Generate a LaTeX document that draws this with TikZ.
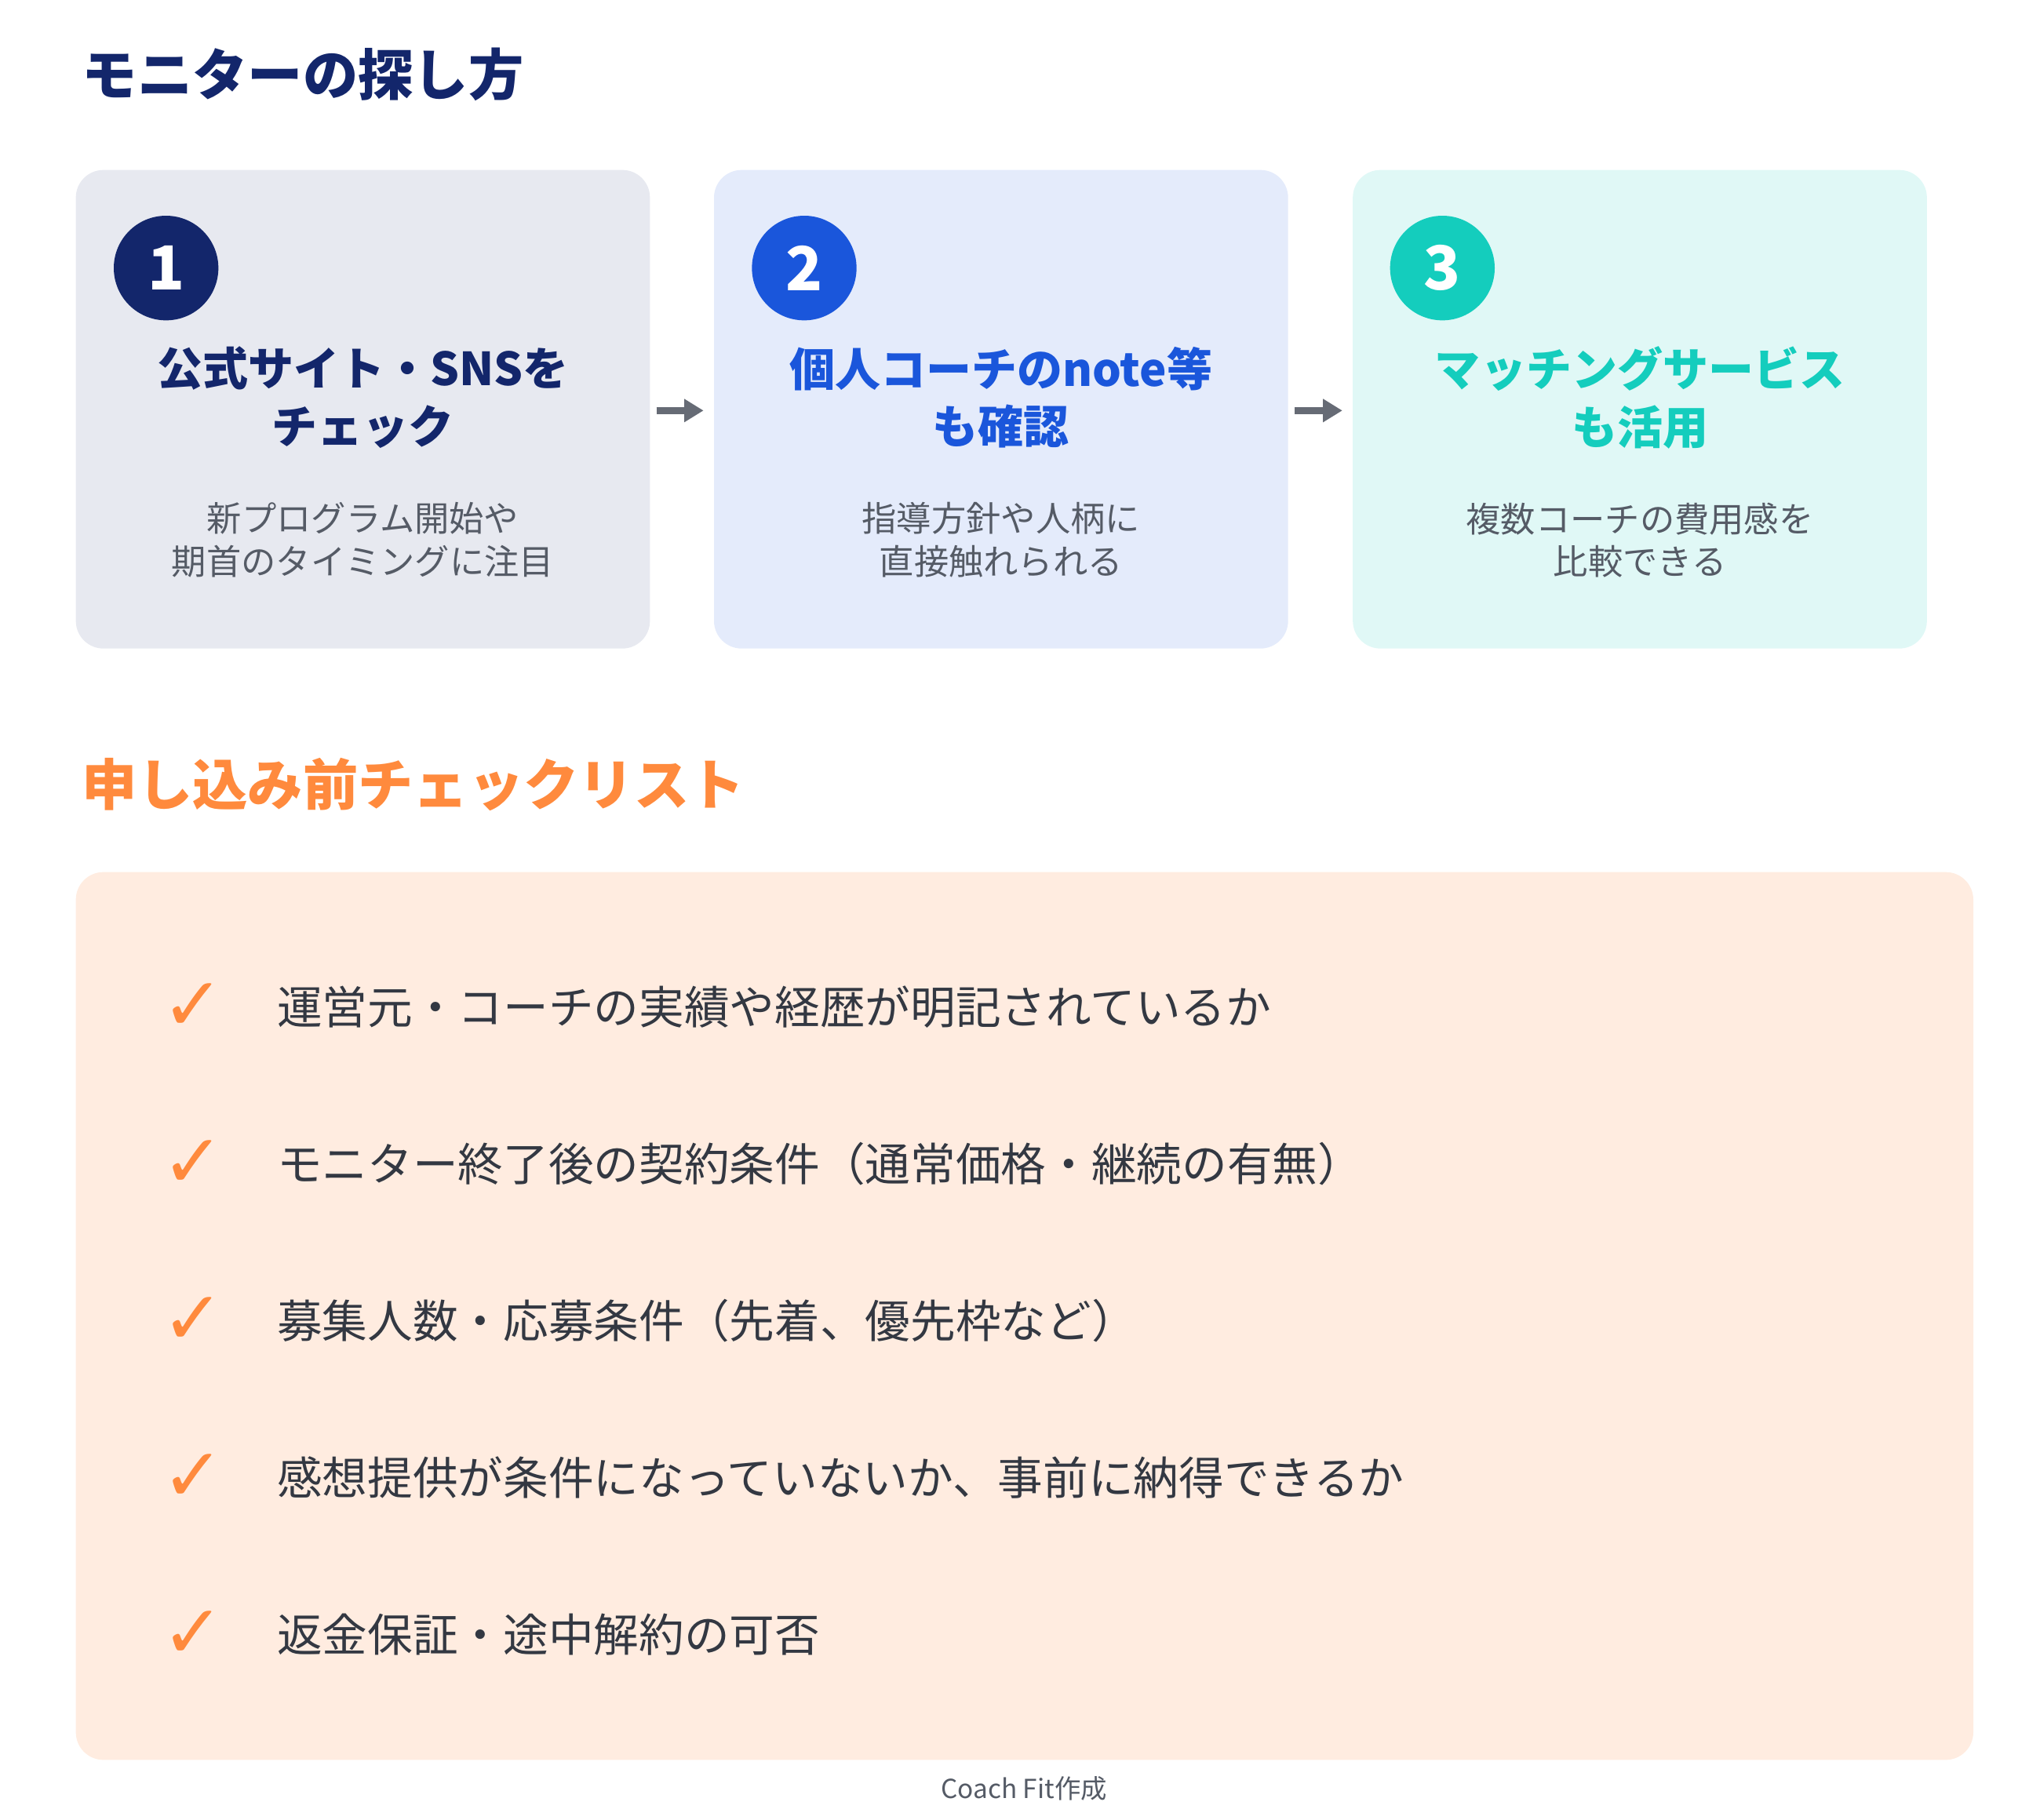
\documentclass[tikz,border=0pt]{standalone}
\usepackage{fontspec}
\setmainfont{Noto Sans CJK JP}
\newfontfamily\symfont{DejaVu Sans}
\usetikzlibrary{positioning,arrows.meta}
\definecolor{navy}{HTML}{13266B}
\definecolor{blueC}{HTML}{1A56DB}
\definecolor{tealC}{HTML}{14CDBD}
\definecolor{orangeC}{HTML}{FF8A3D}
\definecolor{bodyC}{HTML}{555B66}
\definecolor{textC}{HTML}{333842}
\begin{document}
\begin{tikzpicture}[x=0.0166667cm,y=-0.0166667cm,inner sep=0pt,outer sep=0pt,
card/.style={rectangle,rounded corners=10pt,minimum width=439*0.0166667cm,minimum height=366*0.0166667cm},
badge/.style={circle,minimum size=80*0.0166667cm,text=white,font=\fontsize{22}{22}\selectfont\bfseries},
cardtitle/.style={align=center,font=\fontsize{16.5}{21}\selectfont\bfseries},
cardbody/.style={align=center,text=bodyC,font=\fontsize{12.6}{15.5}\selectfont},
heading/.style={anchor=west,font=\fontsize{20}{20}\selectfont\bfseries},
check/.style={text=orangeC,font=\symfont\fontsize{27}{27}\selectfont\bfseries},
item/.style={anchor=west,text=textC,font=\fontsize{16.4}{16.4}\selectfont},
flow/.style={-{Triangle[length=7pt,width=8pt]},line width=2.5pt,draw=bodyC!90}]
\useasboundingbox (0,0) rectangle (1560,1392);

%%% Heading 1
\node[heading,text=navy] (h1) at (63,57) {モニターの探し方};

%%% Cards
\node[card,fill=navy!10] (c1) at (277.5,313) {};
\node[card,fill=blueC!12] (c2) at (765.5,313) {};
\node[card,fill=tealC!13] (c3) at (1254,313) {};

\node[badge,fill=navy] (b1) at (127,205) {1};
\node[badge,fill=blueC] (b2) at (615,205) {2};
\node[badge,fill=tealC] (b3) at (1103,205) {3};

\node[cardtitle,text=navy] (t1) at (277.5,304) {公式サイト・SNSを\\チェック};
\node[cardtitle,text=blueC] (t2) at (765.5,304) {個人コーチのnote等\\も確認};
\node[cardtitle,text=tealC] (t3) at (1254,304) {マッチングサービス\\も活用};

\node[cardbody] (d1) at (277.5,413) {新プログラム開始や\\期首のタイミングに注目};
\node[cardbody] (d2) at (765.5,413) {指導方針や人柄に\\直接触れられる};
\node[cardbody] (d3) at (1254,413) {複数コーチの費用感を\\比較できる};

\draw[flow] ([xshift=5*0.0166667cm]c1.east|-0,314) -- ([xshift=-8*0.0166667cm]c2.west|-0,314);
\draw[flow] ([xshift=5*0.0166667cm]c2.east|-0,314) -- ([xshift=-8*0.0166667cm]c3.west|-0,314);

%%% Heading 2 and checklist
\node[heading,text=orangeC] (h2) at (63,600) {申し込み前チェックリスト};
\node[rectangle,rounded corners=10pt,fill=orangeC!16,minimum width=1451*0.0166667cm,minimum height=679*0.0166667cm] (list) at (783.5,1006.5) {};

\foreach \y/\txt [count=\i] in {770/運営元・コーチの実績や経歴が明記されているか,
  890/モニター終了後の契約条件（通常価格・継続の有無）,
  1010/募集人数・応募条件（先着、優先枠など）,
  1130/感想提供が条件になっていないか、事前に納得できるか,
  1250/返金保証・途中解約の可否}{
  \node[check] (k\i) at (148,\y) {✓};
  \node[item] (i\i) at (212,\y) {\txt};
}

\node[text=bodyC,font=\fontsize{9.5}{9.5}\selectfont] (foot) at (783,1368) {Coach Fit作成};
\end{tikzpicture}
\end{document}
